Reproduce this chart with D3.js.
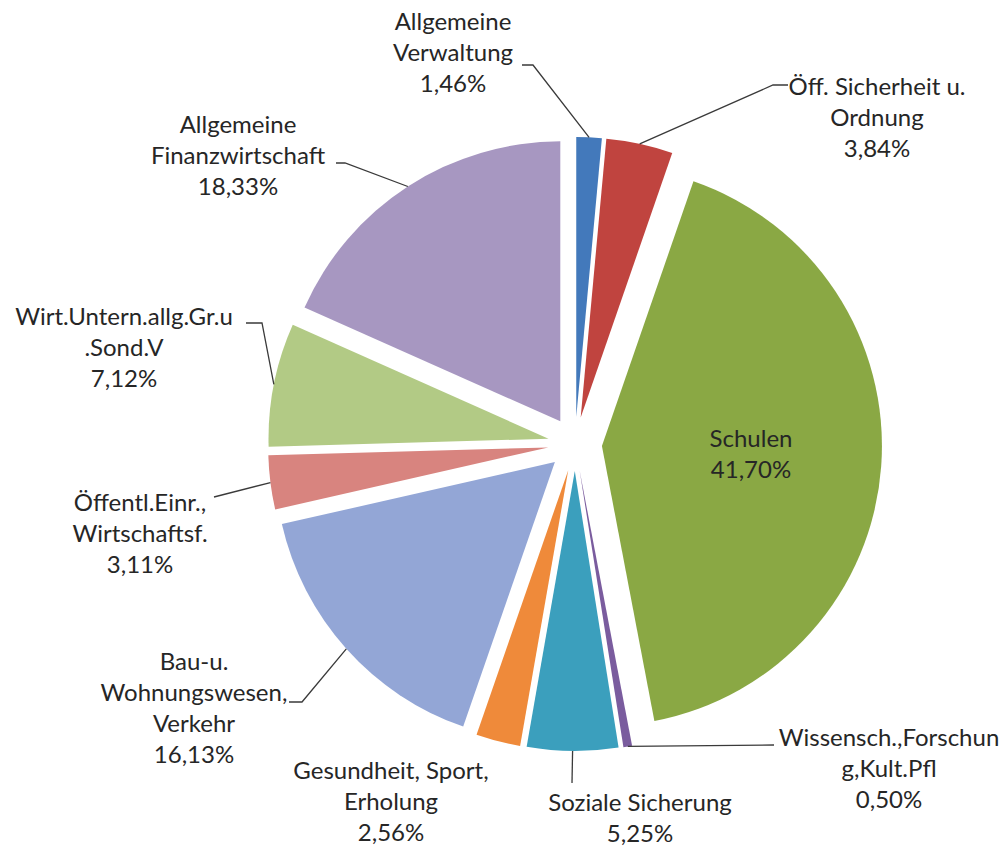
<!DOCTYPE html>
<html>
<head>
<meta charset="utf-8">
<script src="https://cdn.jsdelivr.net/npm/d3@7"></script>
<style>
  body { margin: 0; background: #fff; }
  text { font-family: Lato, "Open Sans", sans-serif; font-size: 24px; fill: #262626; }
</style>
</head>
<body>
<div class="canvas"></div>
<script>
// slices, clockwise from 12 o'clock
const categories = [
    "Allgemeine\nVerwaltung",
    "Öff. Sicherheit u.\nOrdnung",
    "Schulen",
    "Wissensch.,Forschun\ng,Kult.Pfl",
    "Soziale Sicherung",
    "Gesundheit, Sport,\nErholung",
    "Bau-u.\nWohnungswesen,\nVerkehr",
    "Öffentl.Einr.,\nWirtschaftsf.",
    "Wirt.Untern.allg.Gr.u\n.Sond.V",
    "Allgemeine\nFinanzwirtschaft"
];
const shares = [1.46, 3.84, 41.70, 0.50, 5.25, 2.56, 16.13, 3.11, 7.12, 18.33];
const colors = ['#4379bb', '#c0443f', '#8aa844', '#7a5c9e', '#3b9fbd',
                '#ef8a3a', '#93a6d6', '#d8847f', '#b2ca85', '#a797c1'];

// label placement: centre x, first baseline, leader start/elbow (end comes from the slice)
const labelPos = [
    { x: 453, y: 30,  leader: [[522, 65], [533, 65]] },
    { x: 877, y: 95,  leader: [[788, 85], [773, 85]] },
    { x: 751, y: 447, leader: null },
    { x: 889, y: 746, leader: [[774, 745]] },
    { x: 640, y: 811, leader: [[572, 783]] },
    { x: 391, y: 779, leader: null },
    { x: 194, y: 670, leader: [[289, 702], [302, 702]] },
    { x: 140, y: 511, leader: [[214, 497]] },
    { x: 124, y: 325, leader: [[246, 323], [262, 323]] },
    { x: 238, y: 133, leader: [[336, 163], [345, 163]] }
];

const dims = { width: 1007, height: 848, radius: 280, explode: 27 };
const cent = { x: 575, y: 444 };
const lineH = 31;

const locale = d3.formatLocale({ decimal: ",", thousands: ".", grouping: [3], currency: ["", "€"] });
const pct = v => locale.format(".2f")(v) + "%";

const svg = d3.select('.canvas').append('svg')
    .attr('width', dims.width)
    .attr('height', dims.height);

const pieGen = d3.pie().sort(null).value(d => d);
const arcGen = d3.arc().innerRadius(0).outerRadius(dims.radius);
const arcs = pieGen(shares);

const mid = d => (d.startAngle + d.endAngle) / 2;
const shift = d => [dims.explode * Math.sin(mid(d)), -dims.explode * Math.cos(mid(d))];

const pieGroup = svg.append('g')
    .attr('transform', `translate(${cent.x},${cent.y})`);

pieGroup.selectAll('path')
    .data(arcs)
    .enter()
    .append('path')
    .attr('d', arcGen)
    .attr('transform', d => `translate(${shift(d)})`)
    .style('fill', (d, i) => colors[i]);

// leader lines: label -> outer edge at the slice's mid angle
const outerPoint = d => {
    const s = shift(d);
    const a = mid(d);
    return [cent.x + s[0] + dims.radius * Math.sin(a), cent.y + s[1] - dims.radius * Math.cos(a)];
};

svg.append('g')
    .selectAll('path')
    .data(arcs.filter((d, i) => labelPos[i].leader))
    .enter()
    .append('path')
    .attr('d', d => d3.line()(labelPos[d.index].leader.concat([outerPoint(d)])))
    .style('fill', 'none')
    .style('stroke', '#3a3a3a')
    .style('stroke-width', 1.3);

// labels
const labels = svg.append('g')
    .selectAll('text')
    .data(arcs)
    .enter()
    .append('text')
    .attr('text-anchor', 'middle');

labels.each(function(d, i) {
    const lines = categories[i].split('\n').concat([pct(shares[i])]);
    d3.select(this).selectAll('tspan')
        .data(lines)
        .enter()
        .append('tspan')
        .attr('x', labelPos[i].x)
        .attr('y', (t, k) => labelPos[i].y + k * lineH)
        .text(t => t);
});
</script>
</body>
</html>
